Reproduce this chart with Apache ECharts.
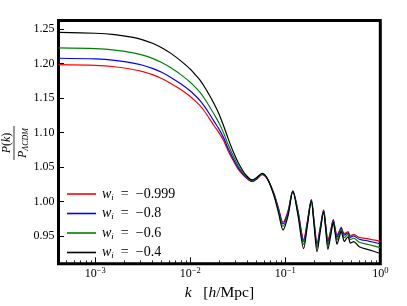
<!DOCTYPE html>
<html><head><meta charset="utf-8">
<script src="https://cdn.jsdelivr.net/npm/echarts@6/dist/echarts.min.js"></script>
<style>html,body{margin:0;padding:0;background:#fff}#c{width:407px;height:306px}</style>
</head><body><div id="c"></div>
<script>
// wavenumber k [h/Mpc]
const kValues = [0.00041,0.001,0.0016,0.0025,0.00316,0.004,0.005,0.0063,0.00794,0.01,0.0112,0.0126,0.0141,0.0158,0.0178,0.02,0.0224,0.0251,0.0282,0.0316,0.0355,0.038,0.0447,0.05,0.0569,0.0646,0.0759,0.0851,0.0946,0.107,0.120,0.136,0.156,0.171,0.188,0.201,0.216,0.234,0.253,0.267,0.281,0.300,0.320,0.335,0.350,0.369,0.388,0.403,0.418,0.437,0.457,0.470,0.483,0.501,0.524,0.600,0.750,1.0];
// P(k)/P_LCDM for w_i = -0.999
const redVals = [1.1985,1.1975,1.1955,1.1915,1.1885,1.1840,1.1785,1.1710,1.1625,1.1525,1.1465,1.1395,1.1310,1.1210,1.1100,1.1000,1.0885,1.0730,1.0600,1.0480,1.0395,1.0355,1.0290,1.0325,1.0390,1.0330,1.0120,0.9900,0.9700,0.9870,1.0155,0.9870,0.9450,0.9720,1.0030,0.9720,0.9400,0.9640,0.9880,0.9650,0.9440,0.9580,0.9740,0.9610,0.9510,0.9570,0.9630,0.9570,0.9540,0.9550,0.9565,0.9535,0.9505,0.9515,0.9525,0.9483,0.9460,0.9425];
// w_i = -0.8
const blueVals = [1.2078,1.2068,1.2048,1.2008,1.1977,1.1931,1.1874,1.1797,1.1708,1.1604,1.1541,1.1469,1.1381,1.1278,1.1164,1.1055,1.0928,1.0766,1.0626,1.0500,1.0407,1.0363,1.0295,1.0330,1.0394,1.0332,1.0114,0.9886,0.9678,0.9856,1.0154,0.9856,0.9424,0.9708,1.0026,0.9706,0.9375,0.9628,0.9874,0.9636,0.9414,0.9564,0.9732,0.9596,0.9485,0.9552,0.9618,0.9554,0.9516,0.9532,0.9550,0.9518,0.9484,0.9494,0.9504,0.9456,0.9429,0.9390];
// w_i = -0.6
const greenVals = [1.2228,1.2217,1.2197,1.2157,1.2124,1.2077,1.2016,1.1936,1.1841,1.1730,1.1663,1.1587,1.1495,1.1387,1.1266,1.1143,1.0997,1.0824,1.0668,1.0532,1.0426,1.0376,1.0303,1.0338,1.0400,1.0335,1.0104,0.9864,0.9643,0.9834,1.0152,0.9834,0.9382,0.9689,1.0020,0.9684,0.9335,0.9609,0.9864,0.9614,0.9372,0.9538,0.9719,0.9574,0.9445,0.9523,0.9599,0.9528,0.9478,0.9503,0.9526,0.9491,0.9450,0.9460,0.9470,0.9413,0.9379,0.9334];
// w_i = -0.4
const blackVals = [1.2452,1.2440,1.2420,1.2380,1.2345,1.2295,1.2230,1.2145,1.2040,1.1920,1.1845,1.1765,1.1665,1.1550,1.1420,1.1275,1.1100,1.0910,1.0730,1.0580,1.0455,1.0395,1.0315,1.0350,1.0410,1.0340,1.0090,0.9830,0.9590,0.9800,1.0150,0.9800,0.9320,0.9660,1.0010,0.9650,0.9275,0.9580,0.9850,0.9580,0.9310,0.9500,0.9700,0.9540,0.9385,0.9480,0.9570,0.9490,0.9420,0.9460,0.9490,0.9450,0.9400,0.9410,0.9420,0.9348,0.9305,0.9250];
const seriesLabels = ['−0.999','−0.8','−0.6','−0.4'];
const seriesColors = ['#ff0000','#0000ff','#008000','#000000'];
const xMajorTicks = [0.001,0.01,0.1,1];
const xMinorTicks = [0.0005,0.0006,0.0007,0.0008,0.0009,0.002,0.003,0.004,0.005,0.006,0.007,0.008,0.009,0.02,0.03,0.04,0.05,0.06,0.07,0.08,0.09,0.2,0.3,0.4,0.5,0.6,0.7,0.8,0.9];
const yTicks = [0.95,1.00,1.05,1.10,1.15,1.20,1.25];

const FONT = 'Liberation Serif';
const chart = echarts.init(document.getElementById('c'), null, {renderer:'canvas'});
const allVals = [redVals, blueVals, greenVals, blackVals];
const series = allVals.map((vals, s) => ({
  name: seriesLabels[s],
  type: 'line',
  xAxisIndex: 0,
  data: kValues.map((k, i) => [k, vals[i]]),
  symbol: 'none',
  smooth: 0.3,
  lineStyle: {width: 1.2, color: seriesColors[s]},
  itemStyle: {color: seriesColors[s]},
  animation: false
}));

const xCommon = {
  type: 'log', logBase: 10, min: 0.00041, max: 1, gridIndex: 0, position: 'bottom',
  axisLine: {show: false}, splitLine: {show: false}, minorTick: {show: false}
};

chart.setOption({
  animation: false,
  grid: {left: 58.5, top: 20.5, right: 26.7, bottom: 42.2, show: true, borderColor: '#000', borderWidth: 3, containLabel: false},
  xAxis: [
    Object.assign({}, xCommon, {
      axisTick: {show: true, inside: true, length: 6.5, lineStyle: {color: '#000', width: 1}, customValues: xMajorTicks},
      axisLabel: {
        show: true, margin: 2, customValues: xMajorTicks,
        formatter: v => { const e = Math.round(Math.log10(v)); return '{b|10}{s|' + (e < 0 ? '−' + (-e) : e) + '}'; },
        rich: {
          b: {fontFamily: FONT, fontSize: 12, color: '#000', lineHeight: 16},
          s: {fontFamily: FONT, fontSize: 8.5, color: '#000', lineHeight: 8, verticalAlign: 'top'}
        }
      },
      name: '{k|k}{t|   [}{h|h}{t|/Mpc]}', nameLocation: 'middle', nameGap: 17,
      nameTextStyle: {rich: {
        k: {fontFamily: FONT, fontSize: 15.5, fontStyle: 'italic', color: '#000'},
        h: {fontFamily: FONT, fontSize: 15.5, fontStyle: 'italic', color: '#000'},
        t: {fontFamily: FONT, fontSize: 15.5, color: '#000'}
      }}
    }),
    Object.assign({}, xCommon, {
      axisTick: {show: true, inside: true, length: 3.5, lineStyle: {color: '#000', width: 0.8}, customValues: xMinorTicks},
      axisLabel: {show: false}
    })
  ],
  yAxis: {
    type: 'value', min: 0.91, max: 1.2625,
    axisLine: {show: false}, splitLine: {show: false},
    axisTick: {show: true, inside: true, length: 5.5, lineStyle: {color: '#000', width: 1}, customValues: yTicks},
    axisLabel: {show: true, margin: 4, customValues: yTicks, formatter: v => v.toFixed(2),
      fontFamily: FONT, fontSize: 12, color: '#000'}
  },
  legend: {
    orient: 'vertical', left: 62, top: 182, itemWidth: 29, itemHeight: 1.6, itemGap: 4.5,
    icon: 'rect',
    data: seriesLabels,
    formatter: name => '{w|w}{i|i}{t|  =  ' + name + '}',
    textStyle: {padding: [0,0,0,1], rich: {
      w: {fontFamily: FONT, fontSize: 14, fontStyle: 'italic', color: '#000', lineHeight: 16},
      i: {fontFamily: FONT, fontSize: 9, fontStyle: 'italic', color: '#000', lineHeight: 10, verticalAlign: 'bottom'},
      t: {fontFamily: FONT, fontSize: 14, color: '#000', lineHeight: 16}
    }}
  },
  graphic: [{
    type: 'group', x: 14, y: 143, rotation: Math.PI / 2,
    children: [
      {type: 'line', shape: {x1: -17, y1: 0, x2: 17, y2: 0}, style: {stroke: '#000', lineWidth: 0.8}},
      {type: 'text', x: 0, y: -1.5, style: {
        text: '{p|P}{t|(}{p|k}{t|)}', align: 'center', verticalAlign: 'bottom',
        rich: {p: {fontFamily: FONT, fontSize: 12, fontStyle: 'italic', fill: '#000'}, t: {fontFamily: FONT, fontSize: 12, fill: '#000'}}
      }},
      {type: 'text', x: 0, y: 1.5, style: {
        text: '{p|P}{s|ΛCDM}', align: 'center', verticalAlign: 'top',
        rich: {p: {fontFamily: FONT, fontSize: 12, fontStyle: 'italic', fill: '#000', lineHeight: 14},
               s: {fontFamily: FONT, fontSize: 8, fontStyle: 'italic', fill: '#000', lineHeight: 8, verticalAlign: 'bottom'}}
      }}
    ]
  }],
  series: series
});
</script>
</body></html>
